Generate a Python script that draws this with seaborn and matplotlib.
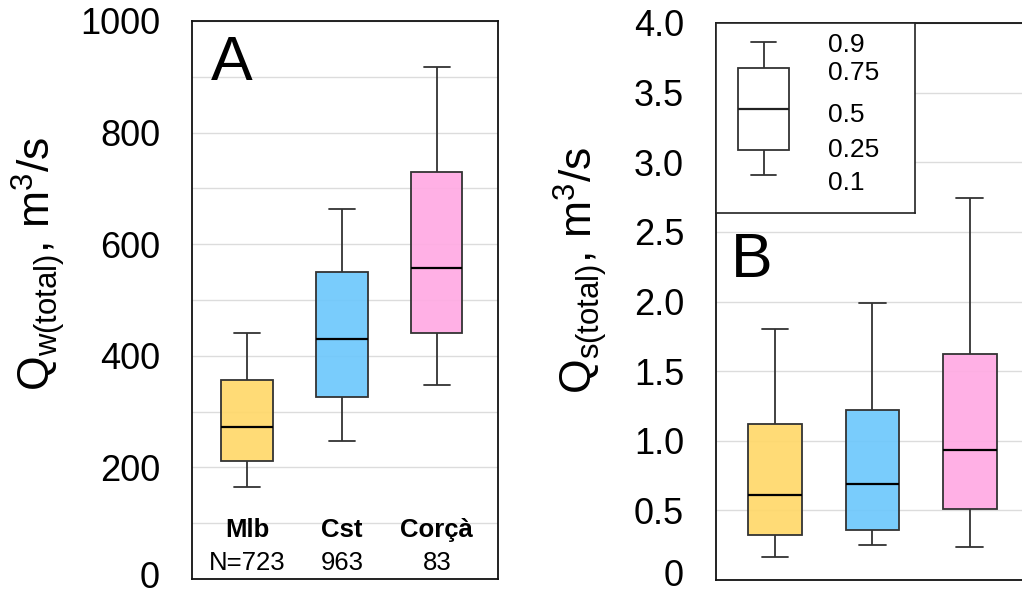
import numpy as np
import pandas as pd
import matplotlib
matplotlib.use("Agg")
import matplotlib.pyplot as plt
import matplotlib.transforms as mtrans
import seaborn as sns
from matplotlib.colors import to_rgba

# ---------------- data ----------------
sites = ["Mlb", "Cst", "Corçà"]
counts = ["N=723", "963", "83"]
colors = ["#FFD86A", "#6EC8FC", "#FFAAE3"]

# percentiles 10, 25, 50, 75, 90
qw_p10 = [165, 247, 348]
qw_p25 = [211, 326, 441]
qw_p50 = [272, 430, 557]
qw_p75 = [357, 550, 729]
qw_p90 = [441, 663, 918]

qs_p10 = [0.165, 0.25, 0.24]
qs_p25 = [0.32, 0.36, 0.51]
qs_p50 = [0.61, 0.69, 0.93]
qs_p75 = [1.12, 1.22, 1.62]
qs_p90 = [1.80, 1.99, 2.74]

# schematic legend box (values on panel B scale)
leg_stats = [2.91, 3.09, 3.38, 3.68, 3.86]
leg_labels = ["0.1", "0.25", "0.5", "0.75", "0.9"]
leg_label_y = [2.85, 3.09, 3.34, 3.64, 3.84]

a_ticks = list(range(0, 1001, 100))
a_ticklabels = [str(t) if t % 200 == 0 else "" for t in a_ticks]
b_ticks = [0, 0.5, 1.0, 1.5, 2.0, 2.5, 3.0, 3.5, 4.0]
b_ticklabels = ["0", "0.5", "1.0", "1.5", "2.0", "2.5", "3.0", "3.5", "4.0"]


def quantile_sample(p10, p25, p50, p75, p90):
    # 11 values whose 10/25/50/75/90th percentiles equal the given values
    return [p10, p10, p25, p25, p50, p50, p50, p75, p75, p90, p90]


def frame(p10s, p25s, p50s, p75s, p90s, names):
    rows = []
    for name, a, b, c, d, e in zip(names, p10s, p25s, p50s, p75s, p90s):
        for v in quantile_sample(a, b, c, d, e):
            rows.append({"site": name, "val": v})
    return pd.DataFrame(rows)


dfA = frame(qw_p10, qw_p25, qw_p50, qw_p75, qw_p90, sites)
dfB = frame(qs_p10, qs_p25, qs_p50, qs_p75, qs_p90, sites)
dfL = frame([leg_stats[0]], [leg_stats[1]], [leg_stats[2]], [leg_stats[3]], [leg_stats[4]], ["leg"])

# ---------------- style ----------------
sns.set_style("white")
plt.rcParams["font.family"] = ["Liberation Sans", "DejaVu Sans"]
plt.rcParams["mathtext.fontset"] = "custom"
plt.rcParams["mathtext.rm"] = "Liberation Sans"
plt.rcParams["mathtext.it"] = "Liberation Sans:italic"
plt.rcParams["mathtext.bf"] = "Liberation Sans:bold"
plt.rcParams["text.color"] = "black"
plt.rcParams["ytick.color"] = "black"
plt.rcParams["ytick.labelcolor"] = "black"
plt.rcParams["axes.labelcolor"] = "black"

W, H = 1022, 594
fig = plt.figure(figsize=(W / 100, H / 100), dpi=100)


def px_axes(x0, x1, ytop, ybot):
    return fig.add_axes([x0 / W, (H - ybot) / H, (x1 - x0) / W, (ybot - ytop) / H])


axA = px_axes(192, 498, 21, 579)
axB = px_axes(716, 1023, 23, 580)

edge = "#333333"
box_kw = dict(x="site", y="val", hue="site", palette=colors, whis=(10, 90),
              showfliers=False, linecolor=edge, linewidth=1.3, legend=False,
              saturation=1.0, medianprops=dict(color="black", linewidth=1.6))

sns.boxplot(data=dfA, ax=axA, width=0.54, **box_kw)
sns.boxplot(data=dfB, ax=axB, width=0.55, **box_kw)

for ax in (axA, axB):
    for p in ax.patches:
        fc = p.get_facecolor()
        p.set_facecolor(to_rgba(fc[:3], 0.92))
    ax.grid(axis="y", color="#DCDCDC", linewidth=1.0)
    ax.set_axisbelow(True)
    ax.set_xlabel("")
    ax.set_ylabel("")
    ax.set_xticks([])
    ax.tick_params(axis="y", length=0, pad=23, labelsize=26, labelcolor="black")
    for s in ax.spines.values():
        s.set_color("#111111")
        s.set_linewidth(1.3)

axA.set_xlim(-0.58, 2.645)
axA.set_ylim(0, 1000)
axA.set_yticks(a_ticks)
axA.set_yticklabels(a_ticklabels)

axB.set_xlim(-0.605, 2.545)
axB.set_ylim(0, 4.0)
axB.set_yticks(b_ticks)
axB.set_yticklabels(b_ticklabels)

# lift the bottom "0" labels a little so they stay inside the picture
for ax, dy in ((axA, 5), (axB, 8)):
    lift = mtrans.ScaledTranslation(0, dy / 100, fig.dpi_scale_trans)
    lab0 = ax.get_yticklabels()[0]
    lab0.set_transform(lab0.get_transform() + lift)

# category labels inside panel A
tr = axA.get_xaxis_transform()
for i, (s, n) in enumerate(zip(sites, counts)):
    axA.text(i, 0.0753, s, transform=tr, ha="center", va="baseline",
             fontsize=18.5, fontweight="bold")
    axA.text(i, 0.016, n, transform=tr, ha="center", va="baseline", fontsize=18.5)

axA.text(0.062, 0.894, "A", transform=axA.transAxes, fontsize=45, va="baseline", ha="left")
axB.text(0.050, 0.544, "B", transform=axB.transAxes, fontsize=45, va="baseline", ha="left")

# y labels
fig.text(38 / W, (H - 264) / H, r"Q$_{\mathrm{w(total)}}$, m$^{3}$/s", rotation=90,
         ha="center", va="center", fontsize=32)
fig.text(580 / W, (H - 270) / H, r"Q$_{\mathrm{s(total)}}$, m$^{3}$/s", rotation=90,
         ha="center", va="center", fontsize=32)

# legend inset
axL = px_axes(716, 915, 23, 213)
axL.set_facecolor("white")
sns.boxplot(data=dfL, x="site", y="val", color="white", whis=(10, 90), showfliers=False,
            linecolor=edge, linewidth=1.3, width=0.51, ax=axL, saturation=1.0,
            medianprops=dict(color="#222222", linewidth=1.6))
axL.set_xlim(-0.475, 1.515)
axL.set_ylim((580 - 213) / 139.25, 4.0)
axL.set_xticks([])
axL.set_yticks([])
axL.set_xlabel("")
axL.set_ylabel("")
for s in axL.spines.values():
    s.set_color("#222222")
    s.set_linewidth(1.2)
for lab, yy in zip(leg_labels, leg_label_y):
    axL.text(0.645, yy, lab, ha="left", va="center", fontsize=19)

fig.savefig("out.png", dpi=100)
